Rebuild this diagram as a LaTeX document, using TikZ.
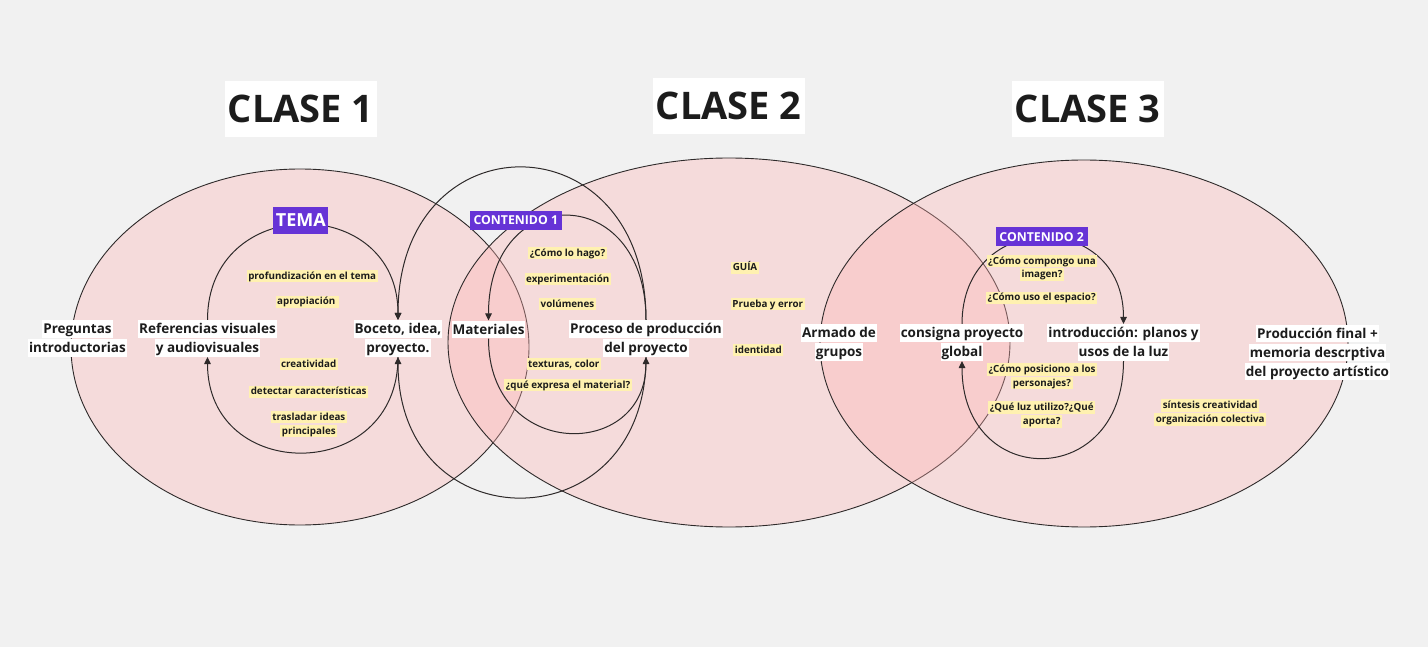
\documentclass[tikz,border=0pt]{standalone}
\usepackage{fontspec}
\setmainfont{Open Sans}
\usetikzlibrary{arrows.meta}
\definecolor{bgc}{HTML}{F1F1F1}
\definecolor{pinkf}{HTML}{FFB3B3}
\definecolor{purp}{HTML}{6633D6}
\definecolor{hlyel}{HTML}{FFF1B0}
\definecolor{ink}{HTML}{1C1C1C}
\definecolor{edgec}{HTML}{2E2A2A}
\newcommand{\wl}[1]{{\setlength{\fboxsep}{0pt}\colorbox{white}{\rule[-0.32em]{0pt}{1.31em}\hspace{1pt}#1\hspace{1pt}}}}
\newcommand{\yl}[1]{{\setlength{\fboxsep}{0pt}\colorbox{hlyel}{\rule[-0.3em]{0pt}{1.26em}\hspace{1.5pt}#1\hspace{1.5pt}}}}
\tikzset{
  ell/.style={draw=edgec, line width=0.9pt, fill=pinkf, fill opacity=0.35, draw opacity=1},
  conn/.style={draw=edgec, line width=1pt},
  arr/.style={conn, -{Triangle[length=7pt,width=6.5pt]}},
  lab/.style={inner sep=0pt, align=center, text=ink, font=\fontsize{13.5}{19}\selectfont\bfseries},
  ylab/.style={inner sep=0pt, align=center, text=ink, font=\fontsize{9.8}{13.7}\selectfont\bfseries},
  clase/.style={fill=white, inner sep=0pt, minimum width=152pt, minimum height=56pt, text=ink, font=\fontsize{38}{40}\selectfont\bfseries},
  tag/.style={fill=purp, inner sep=0pt, text=white, font=\bfseries}
}
\begin{document}
\begin{tikzpicture}[x=1pt,y=-1pt]
\fill[bgc] (0,0) rectangle (1428,647);
\useasboundingbox (0,0) rectangle (1428,647);

% big ellipses
\draw[ell] (300,347) ellipse [x radius=229, y radius=178];
\draw[ell] (729,342.5) ellipse [x radius=281, y radius=184.5];
\draw[ell] (1084,343.5) ellipse [x radius=264, y radius=183.5];

% headings
\node[clase] (c1) at (300.8,108.7) {CLASE 1};
\node[clase] (c2) at (728.8,105.7) {CLASE 2};
\node[clase] (c3) at (1087.8,108.7) {CLASE 3};

% main nodes
\node[lab] (preg) at (77.5,338.5) {\wl{Preguntas}\\\wl{introductorias}};
\node[lab] (ref) at (207.5,338.5) {\wl{Referencias visuales}\\\wl{y audiovisuales}};
\node[lab] (boceto) at (398,338.5) {\wl{Boceto, idea,}\\\wl{proyecto.}};
\node[lab] (mat) at (488.5,329.5) {\wl{Materiales}};
\node[lab] (proc) at (646,338.5) {\wl{Proceso de producción}\\\wl{del proyecto}};
\node[lab] (armado) at (839,342.5) {\wl{Armado de}\\\wl{grupos}};
\node[lab] (consigna) at (962,342.5) {\wl{consigna proyecto}\\\wl{global}};
\node[lab] (intro) at (1123.5,342.5) {\wl{introducción: planos y}\\\wl{usos de la luz}};
\node[lab] (final) at (1317.5,352.5) {\wl{Producción final +}\\\wl{memoria descrptiva}\\\wl{del proyecto artístico}};

% connectors
\draw[arr] (ref.north) .. controls +(0,-127) and +(0,-127) .. (boceto.north);
\draw[arr] (boceto.south) .. controls +(0,127) and +(0,127) .. (ref.south);
\draw[arr] (proc.north) .. controls +(0,-203) and +(0,-203) .. (boceto.north);
\draw[arr] (proc.south) .. controls +(0,187) and +(0,187) .. (boceto.south);
\draw[arr] (proc.north) .. controls +(0,-139) and +(0,-139) .. (mat.north);
\draw[arr] (mat.south) .. controls +(0,122) and +(0,104) .. (proc.south);
\draw[arr] (consigna.north) .. controls +(0,-115) and +(0,-115) .. (intro.north);
\draw[arr] (intro.south) .. controls +(0,129) and +(0,129) .. (consigna.south);

% tags
\node[tag, minimum width=55pt, minimum height=27.6pt, font=\fontsize{18}{20}\selectfont\bfseries] (tema) at (300.8,220.5) {TEMA};
\node[tag, minimum width=92pt, minimum height=19pt, font=\fontsize{12.3}{14}\selectfont\bfseries] (cont1) at (515.8,220.5) {CONTENIDO 1};
\node[tag, minimum width=92pt, minimum height=19pt, font=\fontsize{12.3}{14}\selectfont\bfseries] (cont2) at (1041.7,237) {CONTENIDO 2};

% yellow labels, clase 1
\node[ylab] (y1) at (312.2,276) {\yl{profundización en el tema}};
\node[ylab] (y2) at (307.5,301.7) {\yl{apropiación\ }};
\node[ylab] (y3) at (308.7,364) {\yl{creatividad}};
\node[ylab] (y4) at (308.7,391.7) {\yl{detectar características}};
\node[ylab] (y5) at (308.8,424) {\yl{trasladar ideas}\\\yl{principales}};
% clase 2
\node[ylab] (y6) at (567.5,253.3) {\yl{¿Cómo lo hago?}};
\node[ylab] (y7) at (567.8,279.3) {\yl{experimentación}};
\node[ylab] (y8) at (567.5,304.3) {\yl{volúmenes}};
\node[ylab] (y9) at (563.8,364) {\yl{texturas, color}};
\node[ylab] (y10) at (568,385) {\yl{¿qué expresa el material?}};
\node[ylab] (y11) at (745,267.7) {\yl{GUÍA}};
\node[ylab] (y12) at (767.8,304.3) {\yl{Prueba y error}};
\node[ylab] (y13) at (758.3,350) {\yl{identidad}};
% clase 3
\node[ylab] (y14) at (1042,267.7) {\yl{¿Cómo compongo una}\\\yl{imagen?}};
\node[ylab] (y15) at (1041.7,297.7) {\yl{¿Cómo uso el espacio?}};
\node[ylab] (y16) at (1042,376.3) {\yl{¿Cómo posiciono a los}\\\yl{personajes?}};
\node[ylab] (y17) at (1041.7,414.5) {\yl{¿Qué luz utilizo?¿Qué}\\\yl{aporta?}};
\node[ylab] (y18) at (1210.2,412.5) {\yl{síntesis creatividad}\\\yl{organización colectiva}};
\end{tikzpicture}
\end{document}
